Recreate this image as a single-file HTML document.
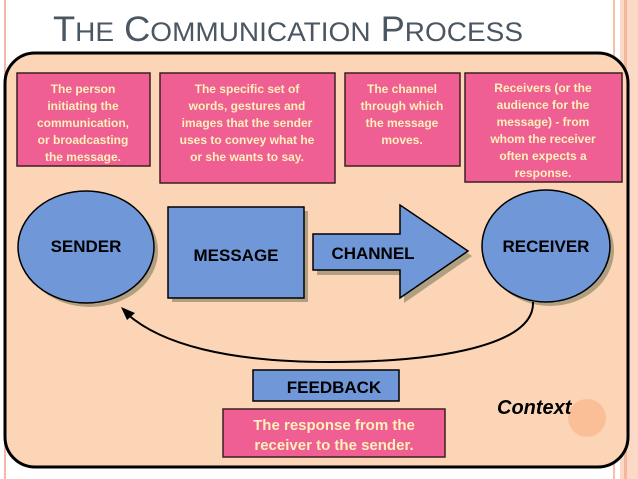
<!DOCTYPE html>
<html><head><meta charset="utf-8"><style>
html,body{margin:0;padding:0;background:#fff;}
svg{display:block;}
text{font-family:"Liberation Sans",Arial,sans-serif;}
</style></head><body>
<svg width="638" height="479" viewBox="0 0 638 479" xmlns="http://www.w3.org/2000/svg">
<rect width="638" height="479" fill="#fff"/>
<rect x="4" y="0" width="2" height="479" fill="#f4b8a8"/>
<rect x="613" y="0" width="2" height="479" fill="#f4c0a8"/>
<rect x="620" y="0" width="18" height="479" fill="#fbd9c6"/>
<rect x="624" y="0" width="3" height="479" fill="#f3b89e"/>
<text x="53" y="41" fill="#4b5663" font-size="35" textLength="470" lengthAdjust="spacingAndGlyphs">T<tspan font-size="27">HE</tspan> C<tspan font-size="27">OMMUNICATION</tspan> P<tspan font-size="27">ROCESS</tspan></text>
<rect x="5" y="53" width="623" height="414" rx="30" fill="#fcd5b6" stroke="#000" stroke-width="3"/>
<g fill="#ef5f94" stroke="#3a2020" stroke-width="1.5">
<rect x="17" y="73" width="133" height="93"/>
<rect x="160" y="73" width="175" height="110"/>
<rect x="345" y="73" width="115" height="93"/>
<rect x="465" y="73" width="157" height="109"/>
</g>
<g fill="#fff2b8" font-size="12" font-weight="bold" text-anchor="middle">
<text x="83" y="93">The person</text><text x="83" y="110">initiating the</text><text x="83" y="127">communication,</text><text x="83" y="144">or broadcasting</text><text x="83" y="161">the message.</text>
<text x="247" y="93">The specific set of</text><text x="247" y="110">words, gestures and</text><text x="247" y="127">images that the sender</text><text x="247" y="144">uses to convey what he</text><text x="247" y="161">or she wants to say.</text>
<text x="402" y="93">The channel</text><text x="402" y="110">through which</text><text x="402" y="127">the message</text><text x="402" y="144">moves.</text>
<text x="543" y="92">Receivers (or the</text><text x="543" y="109">audience for the</text><text x="543" y="126">message) - from</text><text x="543" y="143">whom the receiver</text><text x="543" y="160">often expects a</text><text x="543" y="177">response.</text>
</g>
<!-- shadows -->
<g fill="#b09f80">
<ellipse cx="90" cy="251" rx="68" ry="56"/>
<rect x="172" y="211" width="136" height="91"/>
<polygon points="317,238 404,238 404,210 472,256 404,303 404,275 317,275"/>
<ellipse cx="550" cy="250" rx="64" ry="56"/>
</g>
<g fill="#7097d8" stroke="#000" stroke-width="1.5">
<ellipse cx="86" cy="247" rx="68" ry="56"/>
<rect x="168" y="207" width="136" height="91"/>
<polygon points="313,234 400,234 400,205 468,251 400,298 400,270 313,270"/>
<ellipse cx="546" cy="246" rx="64" ry="56"/>
</g>
<g fill="#000" font-size="17" font-weight="bold" text-anchor="middle">
<text x="86" y="252">SENDER</text>
<text x="236" y="261">MESSAGE</text>
<text x="373" y="259">CHANNEL</text>
<text x="546" y="252">RECEIVER</text>
</g>
<path d="M533,302 C535,345 440,362 330,362 C230,362 160,345 125,312" fill="none" stroke="#000" stroke-width="2"/>
<polygon points="121,307 135,313 127,320" fill="#000"/>
<rect x="253" y="370" width="146" height="31" fill="#7097d8" stroke="#000" stroke-width="1.5"/>
<text x="334" y="393" font-size="17" font-weight="bold" text-anchor="middle">FEEDBACK</text>
<rect x="223" y="409" width="222" height="48" fill="#ef5f94" stroke="#3a2020" stroke-width="1.5"/>
<g fill="#fff2b8" font-size="15" font-weight="bold" text-anchor="middle">
<text x="334" y="430">The response from the</text>
<text x="334" y="450">receiver to the sender.</text>
</g>
<circle cx="587" cy="418" r="19" fill="#f9b98e" opacity="0.8"/>
<text x="497" y="414" font-size="20" font-weight="bold" font-style="italic" fill="#000">Context</text>
</svg>
</body></html>
